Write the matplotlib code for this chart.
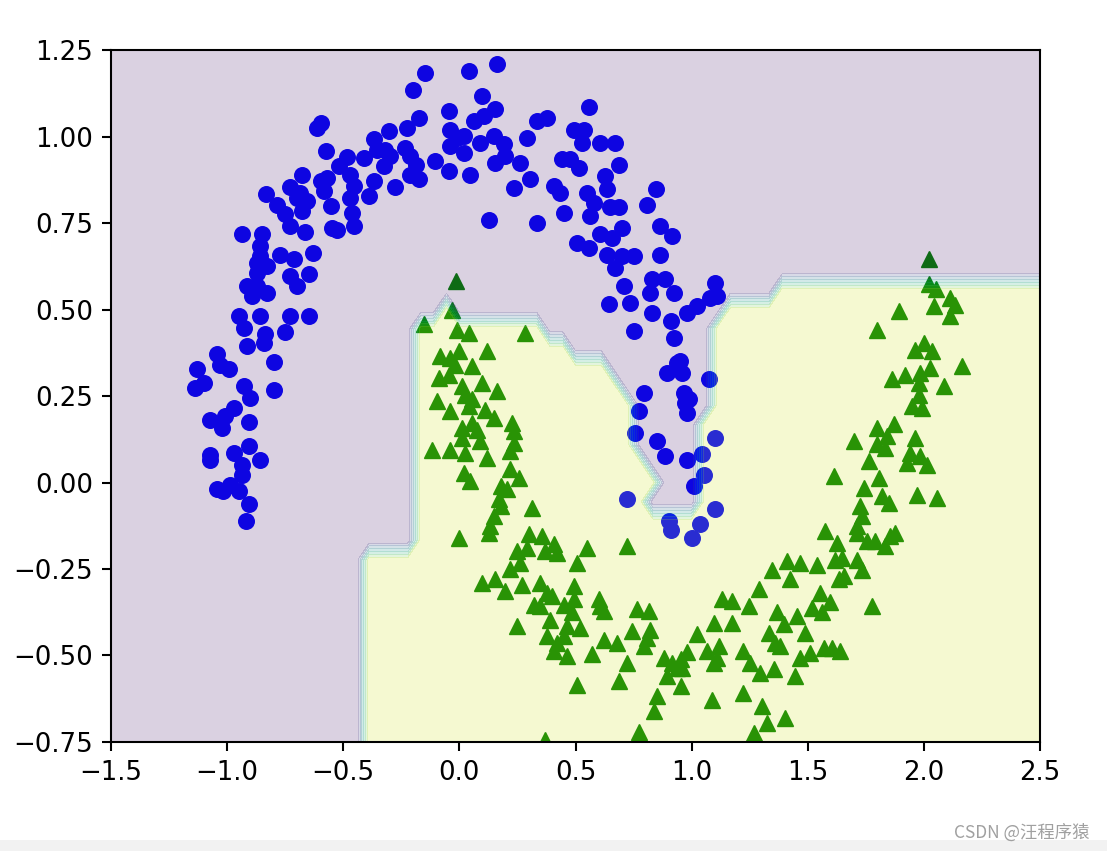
import numpy as np
import matplotlib
matplotlib.use("Agg")
import matplotlib.pyplot as plt
from matplotlib.path import Path
from matplotlib.patches import Rectangle

# ---- class 0 (blue circles) ----
blue_x = [-0.146, -0.201, -0.175, -0.225, -0.304, -0.369, -0.598, -0.613, -0.574, -0.484,
          -0.520, -0.412, -0.354, -0.319, -0.297, -0.326, -0.233, -0.211, -0.189, -0.175,
          -0.211, -0.276, -0.369, -0.391, -0.469, -0.455, -0.469, -0.462, -0.455, -0.527,
          -0.548, -0.555, -0.584, -0.598, -0.570, -0.677, -0.728, -0.685, -0.656, -0.677,
          -0.699, -0.831, -0.785, -0.749, -0.728, -0.663, -0.936, -0.850, -0.857, -0.857,
          -0.871, -0.871, -0.828, -0.771, -0.713, -0.728, -0.699, -0.649, -0.630, -0.914,
          -0.893, -0.828, -0.871, -0.950, -0.929, -0.857, -0.728, -0.649, -0.749, -0.835,
          -0.843, -0.914, -0.800, -1.043, -1.029, -0.993, -1.129, -1.101, -1.137, -0.929,
          -0.900, -0.800, -0.972, -1.008, -1.072, -1.022, -0.907, -0.907, -0.972, -0.857,
          -1.072, -0.936, -0.936, -1.043, -0.986, -0.950, -0.907, -0.921, -1.075, -1.016,
          0.040, 0.162, 0.098, -0.046, 0.155, 0.062, 0.105, -0.039, -0.010, 0.019,
          -0.039, 0.019, 0.090, 0.148, 0.191, 0.198, 0.155, -0.103, -0.046, 0.047,
          0.263, 0.306, 0.234, 0.291, 0.335, 0.378, 0.126, 0.335, 0.406, 0.435,
          0.449, 0.442, 0.478, 0.514, 0.492, 0.535, 0.557, 0.528, 0.607, 0.672,
          0.686, 0.629, 0.636, 0.550, 0.578, 0.564, 0.650, 0.686, 0.507, 0.557,
          0.607, 0.657, 0.701, 0.636, 0.672, 0.701, 0.751, 0.865, 0.865, 0.916,
          0.808, 0.848, 0.707, 0.736, 0.643, 0.830, 0.887, 0.822, 0.923, 0.830,
          0.909, 0.923, 0.751, 0.980, 1.023, 1.081, 1.102, 1.110, 0.937, 0.894,
          0.959, 1.073, 0.794, 0.966, 0.973, 0.980, 0.772, 0.758, 0.851, 0.887,
          0.980, 1.045, 1.052, 1.009, 1.102, 0.722, 0.901, 0.909, 1.038, 1.002,
          1.102, 0.987, 0.950]
blue_y = [1.184, 1.134, 1.054, 1.025, 1.015, 0.993, 1.038, 1.025, 0.958, 0.941,
          0.914, 0.938, 0.962, 0.962, 0.943, 0.914, 0.967, 0.943, 0.919, 0.876,
          0.890, 0.855, 0.871, 0.827, 0.890, 0.856, 0.823, 0.780, 0.741, 0.731,
          0.736, 0.799, 0.842, 0.871, 0.881, 0.890, 0.855, 0.837, 0.813, 0.784,
          0.823, 0.835, 0.803, 0.775, 0.741, 0.723, 0.717, 0.719, 0.683, 0.654,
          0.635, 0.606, 0.625, 0.659, 0.645, 0.596, 0.567, 0.604, 0.664, 0.567,
          0.538, 0.548, 0.567, 0.481, 0.447, 0.481, 0.481, 0.481, 0.434, 0.428,
          0.404, 0.394, 0.349, 0.370, 0.341, 0.327, 0.327, 0.288, 0.274, 0.278,
          0.245, 0.267, 0.216, 0.192, 0.182, 0.158, 0.174, 0.105, 0.086, 0.066,
          0.066, 0.052, 0.023, -0.020, -0.006, -0.025, -0.061, -0.112, 0.080, -0.025,
          1.189, 1.211, 1.117, 1.075, 1.080, 1.044, 1.059, 1.020, 0.996, 1.001,
          0.972, 0.953, 0.982, 1.001, 0.977, 0.943, 0.924, 0.929, 0.900, 0.890,
          0.924, 0.876, 0.852, 0.996, 1.044, 1.054, 0.760, 0.751, 0.856, 0.837,
          0.780, 0.934, 0.934, 0.910, 1.020, 1.020, 1.086, 0.982, 0.982, 0.982,
          0.919, 0.885, 0.847, 0.837, 0.808, 0.770, 0.795, 0.795, 0.693, 0.678,
          0.717, 0.708, 0.737, 0.659, 0.621, 0.654, 0.654, 0.659, 0.741, 0.712,
          0.803, 0.849, 0.567, 0.519, 0.517, 0.587, 0.587, 0.548, 0.548, 0.490,
          0.466, 0.418, 0.437, 0.490, 0.510, 0.534, 0.577, 0.538, 0.346, 0.317,
          0.317, 0.298, 0.259, 0.259, 0.230, 0.201, 0.206, 0.144, 0.119, 0.076,
          0.066, 0.081, 0.023, -0.011, 0.129, -0.049, -0.112, -0.136, -0.121, -0.160,
          -0.078, 0.240, 0.350]

# ---- class 1 (green triangles) ----
green_x = [-0.016, -0.153, -0.032, -0.010, 0.040, 0.284, -0.082, -0.039, -0.003, -0.017,
           0.055, 0.119, -0.089, -0.046, 0.011, 0.098, 0.162, -0.096, -0.039, 0.026,
           0.040, 0.055, 0.112, 0.148, 0.227, 0.234, 0.011, 0.055, 0.076, 0.011,
           0.090, -0.118, -0.039, 0.026, 0.119, 0.234, 0.220, 0.019, 0.047, 0.220,
           0.255, 0.177, 0.205, 0.169, 0.177, 0.313, 0.148, 0.133, 0.126, -0.003,
           0.298, 0.356, 0.406, 0.248, 0.291, 0.550, 0.722, 0.421, 0.370, 0.507,
           0.263, 0.220, 0.098, 0.155, 0.198, 0.270, 0.349, 0.378, 0.399, 0.492,
           0.492, 0.449, 0.320, 0.349, 0.484, 0.600, 0.607, 0.621, 0.248, 0.392,
           0.464, 0.521, 0.378, 0.421, 0.449, 0.406, 0.464, 0.571, 0.621, 0.679,
           0.744, 0.765, 0.815, 0.822, 0.808, 0.794, 0.722, 0.686, 0.507, 0.880,
           0.916, 0.952, 0.959, 0.894, 0.952, 1.023, 1.095, 1.067, 1.095, 1.088,
           0.851, 0.837, 0.772, 0.370, 1.129, 0.937, 0.980, 1.117,
           1.712, 1.626, 1.755, 1.791, 1.834, 1.856, 1.877, 1.619, 1.648, 1.712,
           1.734, 1.633, 1.655, 1.540, 1.468, 1.411, 1.346, 1.425, 1.288, 1.174,
           1.245, 1.174, 1.367, 1.396, 1.453, 1.489, 1.554, 1.518, 1.561, 1.597,
           1.777, 1.331, 1.360, 1.382, 1.223, 1.252, 1.296, 1.353, 1.447, 1.468,
           1.511, 1.568, 1.604, 1.640, 1.223, 1.302, 1.324, 1.403, 1.267, 1.110,
           2.021, 2.021, 2.050, 2.114, 2.136, 2.042, 2.114, 1.892, 1.799, 1.963,
           1.999, 2.035, 2.164, 1.920, 1.863, 1.985, 2.028, 1.978, 2.085, 1.978,
           1.949, 1.992, 1.799, 1.871, 1.842, 1.799, 1.834, 1.963, 1.942, 1.985,
           2.013, 1.928, 1.698, 1.762, 1.611, 1.741, 1.805, 1.820, 1.848, 1.971,
           2.057, 1.727, 1.734, 1.712, 1.574]
green_y = [0.582, 0.457, 0.500, 0.442, 0.433, 0.433, 0.365, 0.360, 0.379, 0.341,
           0.336, 0.379, 0.303, 0.312, 0.278, 0.288, 0.264, 0.235, 0.206, 0.254,
           0.221, 0.240, 0.211, 0.187, 0.172, 0.148, 0.158, 0.172, 0.153, 0.129,
           0.119, 0.095, 0.095, 0.086, 0.071, 0.115, 0.091, 0.028, 0.004, 0.038,
           0.014, -0.011, -0.020, -0.049, -0.068, -0.073, -0.097, -0.126, -0.145, -0.160,
           -0.150, -0.155, -0.179, -0.199, -0.189, -0.189, -0.184, -0.203, -0.199, -0.232,
           -0.232, -0.251, -0.290, -0.280, -0.314, -0.295, -0.290, -0.319, -0.329, -0.300,
           -0.338, -0.353, -0.353, -0.357, -0.375, -0.338, -0.357, -0.372, -0.415, -0.396,
           -0.415, -0.420, -0.444, -0.463, -0.444, -0.487, -0.502, -0.497, -0.454, -0.463,
           -0.429, -0.367, -0.372, -0.425, -0.449, -0.473, -0.521, -0.574, -0.584, -0.506,
           -0.521, -0.511, -0.535, -0.560, -0.589, -0.439, -0.405, -0.487, -0.521, -0.628,
           -0.618, -0.661, -0.720, -0.744, -0.338, -0.535, -0.490, -0.473,
           -0.145, -0.174, -0.170, -0.170, -0.184, -0.155, -0.145, -0.224, -0.219, -0.224,
           -0.254, -0.280, -0.271, -0.237, -0.232, -0.228, -0.254, -0.280, -0.309, -0.343,
           -0.357, -0.405, -0.375, -0.410, -0.386, -0.434, -0.319, -0.362, -0.375, -0.346,
           -0.357, -0.434, -0.463, -0.473, -0.487, -0.521, -0.550, -0.540, -0.560, -0.506,
           -0.492, -0.477, -0.477, -0.487, -0.607, -0.646, -0.694, -0.680, -0.723, -0.506,
           0.647, 0.575, 0.560, 0.534, 0.514, 0.510, 0.481, 0.495, 0.442, 0.384,
           0.404, 0.379, 0.336, 0.312, 0.298, 0.317, 0.332, 0.288, 0.278, 0.254,
           0.221, 0.216, 0.158, 0.168, 0.134, 0.110, 0.100, 0.129, 0.086, 0.076,
           0.052, 0.057, 0.119, 0.062, 0.018, -0.015, 0.014, -0.040, -0.059, -0.035,
           -0.044, -0.068, -0.097, -0.126, -0.141]

# ---- decision region (class-1 area outline) and evaluation grid ----
region_x = [-0.42, -0.42, -0.215, -0.215, -0.19, -0.10, -0.04, 0.02, 0.38, 0.45, 0.60,
            0.72, 0.74, 0.79, 0.855, 0.79, 0.815, 1.05, 1.06, 1.17, 1.32, 1.38, 2.7, 2.7]
region_y = [-1.1, -0.185, -0.185, 0.40, 0.45, 0.45, 0.56, 0.45, 0.45, 0.385, 0.385,
            0.277, 0.16, 0.075, -0.006, -0.058, -0.098, -0.098, 0.43, 0.523, 0.523,
            0.595, 0.595, -1.1]
grid_x = np.linspace(-1.5, 2.5, 73)
grid_y = np.linspace(-1.0, 1.5, 46)

xticks = [-1.5, -1.0, -0.5, 0.0, 0.5, 1.0, 1.5, 2.0, 2.5]
yticks = [-0.75, -0.50, -0.25, 0.00, 0.25, 0.50, 0.75, 1.00, 1.25]

S = 1.87  # overall scale relative to matplotlib defaults

fig = plt.figure(figsize=(11.07, 8.51), dpi=100)
fig.patch.set_facecolor("white")
ax = fig.add_axes([0.1003, 0.1281, 0.8392, 0.8131])

ax.plot(blue_x, blue_y, "bo", markersize=6 * S, zorder=2)
ax.plot(green_x, green_y, "g^", markersize=6 * S, zorder=2)

X1, X2 = np.meshgrid(grid_x, grid_y)
region = Path(np.column_stack([region_x, region_y]))
Z = region.contains_points(np.column_stack([X1.ravel(), X2.ravel()])).astype(float)
Z = Z.reshape(X1.shape)
ax.contourf(X1, X2, Z, alpha=0.2, cmap="viridis", zorder=3)

ax.set_xlim(-1.5, 2.5)
ax.set_ylim(-0.75, 1.25)
ax.set_xticks(xticks)
ax.set_yticks(yticks)
ax.set_xticklabels([f"{v:.1f}".replace("-", "\u2212") for v in xticks])
ax.set_yticklabels([f"{v:.2f}".replace("-", "\u2212") for v in yticks])
ax.tick_params(labelsize=10 * S, length=3.5 * S, width=0.8 * S, pad=3.5 * S)
for s in ax.spines.values():
    s.set_linewidth(0.8 * S)
    s.set_zorder(4)

fig.add_artist(Rectangle((0, 0), 1, 11 / 851, transform=fig.transFigure,
                         facecolor="#f2f2f2", edgecolor="none"))
fig.text(1090 / 1107, 1 - 833 / 851, "CSDN @汪程序猿", ha="right", va="center",
         fontsize=12.5, color="#a0a0a0", family=["Noto Sans CJK SC", "DejaVu Sans"])

fig.savefig("out.png", dpi=100)
